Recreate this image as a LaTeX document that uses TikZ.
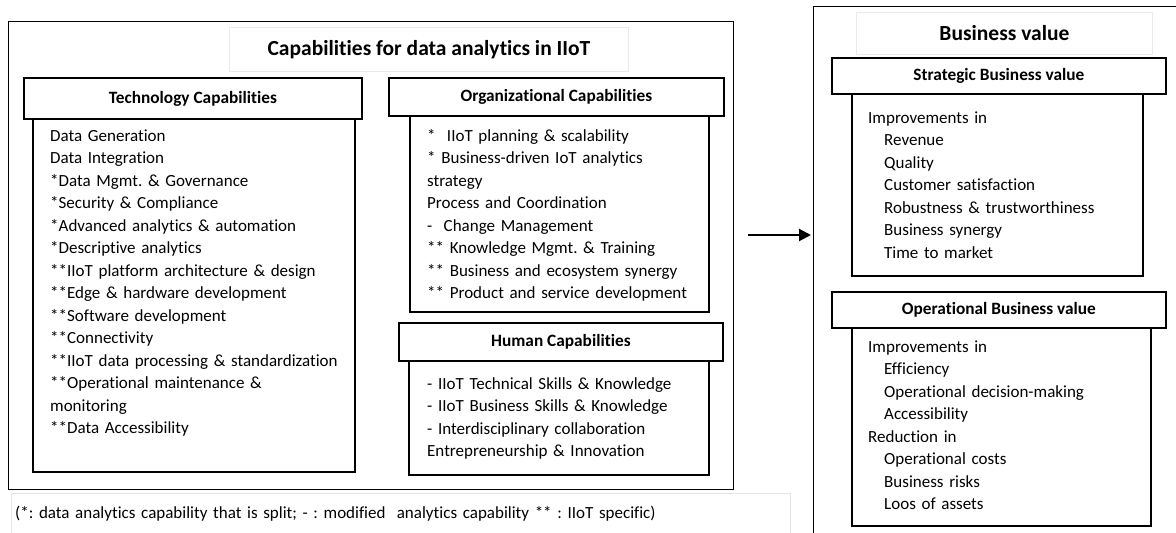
\documentclass[tikz,border=0pt]{standalone}
\usepackage{fontspec}
\setmainfont{Carlito}[Ligatures=NoCommon, RawFeature={-calt}]
\usetikzlibrary{arrows.meta}
\tikzset{
  frame/.style={draw, line width=1.3pt, inner sep=0pt, anchor=north west},
  faint/.style={draw=black!8, line width=0.8pt, inner sep=0pt, anchor=north west},
  headbox/.style={draw, line width=1.8pt, fill=white, inner sep=0pt, anchor=north west,
    font=\bfseries\fontsize{17.3}{20}\selectfont},
  bodybox/.style={draw, line width=1.8pt, inner sep=0pt, anchor=north west},
  title/.style={font=\bfseries\fontsize{21.5}{24}\selectfont},
  list/.style={anchor=base west, align=left, text width=330pt, inner sep=0pt,
    font=\fontsize{17}{22.5}\selectfont\frenchspacing},
}
\begin{document}
\begin{tikzpicture}[x=1pt, y=-1pt]
	\useasboundingbox (0,0) rectangle (1176,533);
	% capabilities
	\node[frame, minimum width=725pt, minimum height=468pt] (caps) at (8,21) {};
	\node[faint, minimum width=399pt, minimum height=44pt] (capsbox) at (229,27) {};
	\node[title] (capstitle) at (capsbox.center) {Capabilities for data analytics in IIoT};
	% technology
	\node[bodybox, minimum width=322pt, minimum height=353pt] (techbody) at (32,118) {};
	\node[headbox, minimum width=338pt, minimum height=41pt] (tech) at (23,77) {Technology Capabilities};
	\node[list] (techlist) at (50,141) {Data Generation\\ Data Integration\\ {*}Data Mgmt. \& Governance\\
		{*}Security \& Compliance\\ {*}Advanced analytics \& automation\\ {*}Descriptive analytics\\
		{**}IIoT platform architecture \& design\\ {**}Edge \& hardware development\\ {**}Software development\\
		{**}Connectivity\\ {**}IIoT data processing \& standardization\\ {**}Operational maintenance \&\\
		monitoring\\ {**}Data Accessibility};
	% organizational
	\node[bodybox, minimum width=299pt, minimum height=196pt] (orgbody) at (409,115) {};
	\node[headbox, minimum width=335pt, minimum height=38pt] (org) at (388,77) {Organizational Capabilities};
	\node[list] (orglist) at (427,141) {{*}\ \ IIoT planning \& scalability\\ {*} Business-driven IoT analytics\\ strategy\\
		Process and Coordination\\ -\ \ Change Management\\ {**} Knowledge Mgmt. \& Training\\
		{**} Business and ecosystem synergy\\ {**} Product and service development};
	% human
	\node[bodybox, minimum width=300pt, minimum height=114pt] (humbody) at (408,360) {};
	\node[headbox, minimum width=324pt, minimum height=38pt] (hum) at (398,322) {Human Capabilities};
	\node[list] (humlist) at (427,389) {- IIoT Technical Skills \& Knowledge\\ - IIoT Business Skills \& Knowledge\\
		- Interdisciplinary collaboration\\ Entrepreneurship \& Innovation};
	% legend
	\node[faint, draw=black!10, minimum width=779pt, minimum height=60pt] (legend) at (11,493) {};
	\node[list, text width=770pt] (legendtext) at (15,518) {(*: data analytics capability that is split; - : modified\ \ analytics capability ** : IIoT specific)};
	% business value
	\node[frame, minimum width=400pt, minimum height=560pt] (value) at (813,6) {};
	\node[faint, minimum width=296pt, minimum height=42pt] (valuebox) at (856,12) {};
	\node[title] (valuetitle) at (valuebox.center) {Business value};
	\node[bodybox, minimum width=291pt, minimum height=182pt] (stratbody) at (851,93) {};
	\node[headbox, minimum width=334pt, minimum height=36pt] (strat) at (831,57) {Strategic Business value};
	\node[list] (stratlist) at (868,123) {Improvements in\\ \hspace*{16pt}Revenue\\ \hspace*{16pt}Quality\\
		\hspace*{16pt}Customer satisfaction\\ \hspace*{16pt}Robustness \& trustworthiness\\
		\hspace*{16pt}Business synergy\\ \hspace*{16pt}Time to market};
	\node[bodybox, minimum width=299pt, minimum height=198pt] (operbody) at (851,327) {};
	\node[headbox, minimum width=334pt, minimum height=36pt] (oper) at (831,291) {Operational Business value};
	\node[list] (operlist) at (868,352) {Improvements in\\ \hspace*{16pt}Efficiency\\ \hspace*{16pt}Operational decision-making\\
		\hspace*{16pt}Accessibility\\ Reduction in\\ \hspace*{16pt}Operational costs\\
		\hspace*{16pt}Business risks\\ \hspace*{16pt}Loos of assets};
	% link
	\coordinate (from) at (748,235);
	\draw[line width=2pt, -{Triangle[length=12pt, width=12pt]}, shorten >=2pt] (from) -- (value.west |- from);
\end{tikzpicture}
\end{document}
